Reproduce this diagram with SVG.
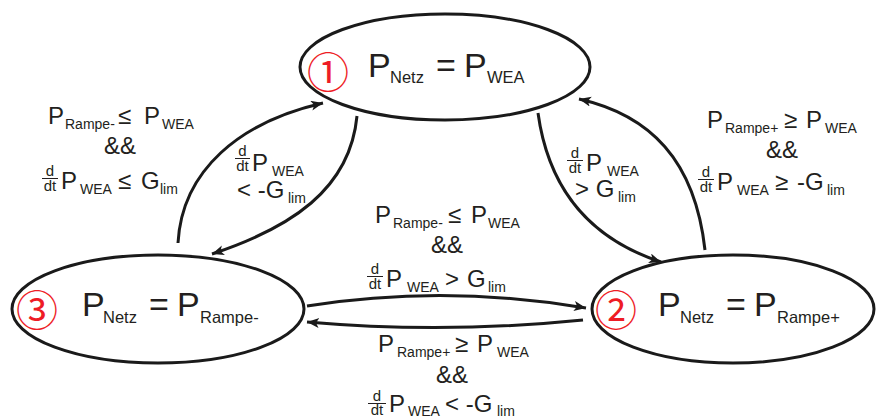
<svg xmlns="http://www.w3.org/2000/svg" width="876" height="419" viewBox="0 0 876 419">
<defs>
<style>
.node{fill:none;stroke:#1a1a1a;stroke-width:3}
.edge{fill:none;stroke:#1a1a1a;stroke-width:3}
text{font-family:"Liberation Sans",Arial,sans-serif;fill:#231f20}
.big{font-size:34px}
.bsub{font-size:16.5px}
.lbl{font-size:24px}
.sub{font-size:14px}
.fr{font-size:15px;text-anchor:middle}
.num{font-family:"Noto Sans CJK SC",sans-serif;font-size:42px;fill:#ee1c25;text-anchor:middle}
.bar{stroke:#231f20;stroke-width:1}
</style>
<marker id="ah" markerUnits="userSpaceOnUse" markerWidth="14" markerHeight="12" refX="12" refY="5" orient="auto">
<path d="M0,0 L12,5 L0,10 L3,5 z" fill="#1a1a1a"/>
</marker>
</defs>
<rect width="876" height="419" fill="#fff"/>

<g id="edges">
<path class="edge" d="M178,243 C182,170 240,122 323,103" marker-end="url(#ah)"/>
<path class="edge" d="M357,116 C350,190 290,228 212,254" marker-end="url(#ah)"/>
<path class="edge" d="M538,113 C550,200 600,242 661,262" marker-end="url(#ah)"/>
<path class="edge" d="M705,250 C695,160 650,115 579,99" marker-end="url(#ah)"/>
<path class="edge" d="M307,306 Q445,284 586,308" marker-end="url(#ah)"/>
<path class="edge" d="M583,320 Q445,334 307,322" marker-end="url(#ah)"/>
</g>

<g id="node1">
<ellipse class="node" cx="445" cy="67" rx="145" ry="53"/>
<text class="num" x="328" y="88">①</text>
<text class="big" y="77"><tspan x="368">P</tspan><tspan class="bsub" x="390" y="83">Netz</tspan><tspan x="436" y="77">=</tspan><tspan x="464">P</tspan><tspan class="bsub" x="487" y="83">WEA</tspan></text>
</g>

<g id="node3">
<ellipse class="node" cx="158" cy="309" rx="146" ry="54"/>
<text class="num" x="37" y="326">③</text>
<text class="big" y="316"><tspan x="82">P</tspan><tspan class="bsub" x="103" y="323">Netz</tspan><tspan x="149" y="316">=</tspan><tspan x="177">P</tspan><tspan class="bsub" x="200" y="323">Rampe-</tspan></text>
</g>

<g id="node2">
<ellipse class="node" cx="733" cy="309" rx="141" ry="54"/>
<text class="num" x="616" y="326">②</text>
<text class="big" y="316"><tspan x="658">P</tspan><tspan class="bsub" x="680" y="323">Netz</tspan><tspan x="726" y="316">=</tspan><tspan x="754">P</tspan><tspan class="bsub" x="777" y="323">Rampe+</tspan></text>
</g>

<g id="label-3-1">
<text class="lbl" y="124"><tspan x="48">P</tspan><tspan class="sub" x="65" y="129">Rampe-</tspan><tspan x="118" y="124">≤</tspan><tspan x="144">P</tspan><tspan class="sub" x="162" y="129">WEA</tspan></text>
<text class="lbl" x="120" y="154" text-anchor="middle">&amp;&amp;</text>
<text class="fr" x="50" y="176">d</text>
<line class="bar" x1="42" y1="178.5" x2="58" y2="178.5"/>
<text class="fr" x="50" y="191">dt</text>
<text class="lbl" y="189"><tspan x="61">P</tspan><tspan class="sub" x="80" y="194">WEA</tspan><tspan x="118" y="189">≤</tspan><tspan x="141">G</tspan><tspan class="sub" x="160" y="194">lim</tspan></text>
</g>

<g id="label-1-3">
<text class="fr" x="242.5" y="156">d</text>
<line class="bar" x1="235" y1="158.5" x2="250" y2="158.5"/>
<text class="fr" x="242.5" y="171">dt</text>
<text class="lbl" y="171"><tspan x="252">P</tspan><tspan class="sub" x="272" y="176">WEA</tspan></text>
<text class="lbl" y="198"><tspan x="237">&lt; -G</tspan><tspan class="sub" x="288" y="203">lim</tspan></text>
</g>

<g id="label-1-2">
<text class="fr" x="575" y="158">d</text>
<line class="bar" x1="567" y1="160.5" x2="583" y2="160.5"/>
<text class="fr" x="575" y="173">dt</text>
<text class="lbl" y="171"><tspan x="586">P</tspan><tspan class="sub" x="607" y="176">WEA</tspan></text>
<text class="lbl" y="197"><tspan x="575">&gt; G</tspan><tspan class="sub" x="618" y="202">lim</tspan></text>
</g>

<g id="label-2-1">
<text class="lbl" y="128"><tspan x="707">P</tspan><tspan class="sub" x="725" y="133">Rampe+</tspan><tspan x="784" y="128">≥</tspan><tspan x="806">P</tspan><tspan class="sub" x="825" y="133">WEA</tspan></text>
<text class="lbl" x="782" y="158" text-anchor="middle">&amp;&amp;</text>
<text class="fr" x="706" y="177">d</text>
<line class="bar" x1="698" y1="179.5" x2="714" y2="179.5"/>
<text class="fr" x="706" y="192">dt</text>
<text class="lbl" y="190"><tspan x="717">P</tspan><tspan class="sub" x="737" y="195">WEA</tspan><tspan x="775" y="190">≥</tspan><tspan x="797">-G</tspan><tspan class="sub" x="827" y="195">lim</tspan></text>
</g>

<g id="label-3-2">
<text class="lbl" y="223"><tspan x="375">P</tspan><tspan class="sub" x="393" y="228">Rampe-</tspan><tspan x="448" y="223">≤</tspan><tspan x="471">P</tspan><tspan class="sub" x="488" y="228">WEA</tspan></text>
<text class="lbl" x="447" y="253" text-anchor="middle">&amp;&amp;</text>
<text class="fr" x="375" y="274">d</text>
<line class="bar" x1="367" y1="276.5" x2="383" y2="276.5"/>
<text class="fr" x="375" y="289">dt</text>
<text class="lbl" y="287"><tspan x="386">P</tspan><tspan class="sub" x="407" y="292">WEA</tspan><tspan x="445" y="287">&gt;</tspan><tspan x="467">G</tspan><tspan class="sub" x="488" y="292">lim</tspan></text>
</g>

<g id="label-2-3">
<text class="lbl" y="352"><tspan x="378">P</tspan><tspan class="sub" x="397" y="357">Rampe+</tspan><tspan x="455" y="352">≥</tspan><tspan x="477">P</tspan><tspan class="sub" x="497" y="357">WEA</tspan></text>
<text class="lbl" x="452" y="383" text-anchor="middle">&amp;&amp;</text>
<text class="fr" x="377" y="401">d</text>
<line class="bar" x1="368" y1="403.5" x2="386" y2="403.5"/>
<text class="fr" x="377" y="415">dt</text>
<text class="lbl" y="412"><tspan x="389">P</tspan><tspan class="sub" x="408" y="416">WEA</tspan><tspan x="445" y="412">&lt; -G</tspan><tspan class="sub" x="497" y="416">lim</tspan></text>
</g>
</svg>
